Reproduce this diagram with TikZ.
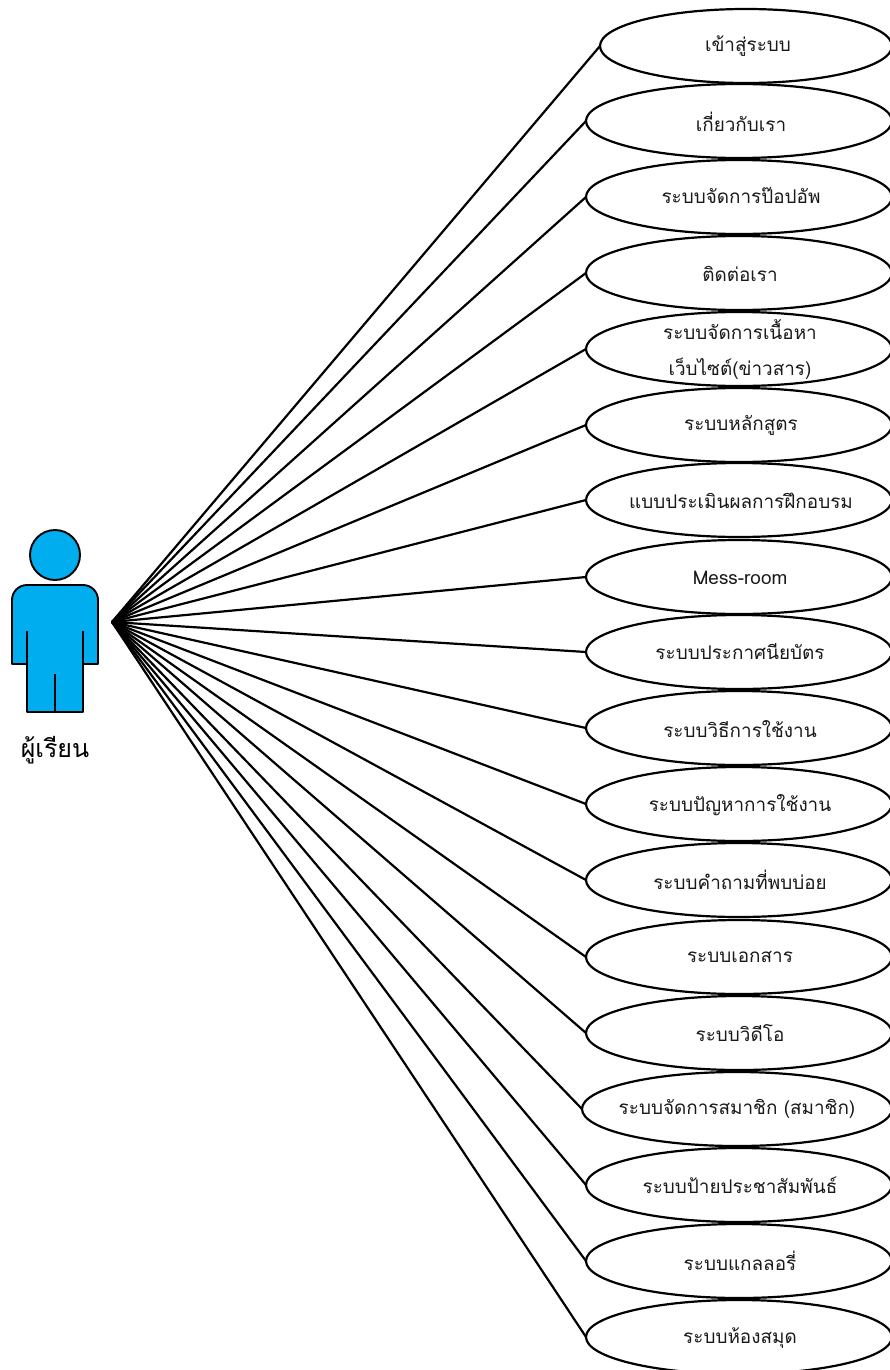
\documentclass[tikz,border=0pt]{standalone}
\usepackage{fontspec}
\usetikzlibrary{shapes.geometric}
\newfontfamily\thaifont[Script=Thai]{Loma}
\definecolor{actorblue}{RGB}{0,174,239}
\tikzset{
  x=1pt,y=-1pt,
  usecase/.style={draw=black,fill=white,ellipse,line width=2.2pt,inner sep=0pt,outer sep=0pt,minimum height=74pt},
  caselabel/.style={font=\thaifont\fontsize{18.9}{36}\selectfont,align=center,inner sep=0pt,text=black!90},
  link/.style={draw=black,line width=2.2pt},
  actorpart/.style={draw=black,fill=actorblue,line width=1.9pt,line join=round}
}
\begin{document}
\begin{tikzpicture}
\useasboundingbox (0,0) rectangle (890,1370);
\coordinate (hub) at (112,622);
\foreach \i/\cx/\rx/\cy/\tx/\ty/\lab in {
 1/746/146/46/748/46/{เข้าสู่ระบบ},
 2/739/153/121/741/122/{เกี่ยวกับเรา},
 3/739/153/197/741/196/{ระบบจัดการป๊อปอัพ},
 4/739/153/273/740/274/{ติดต่อเรา},
 5/739/153/349/740/349/{ระบบจัดการเนื้อหา\\เว็บไซต์(ข่าวสาร)},
 6/739/153/425/741/425/{ระบบหลักสูตร},
 7/739/153/500/741/501/{แบบประเมินผลการฝึกอบรม},
 8/739/153/577/740/578/{Mess-room},
 9/739/153/652/740/652/{ระบบประกาศนียบัตร},
 10/739/153/728/740/729/{ระบบวิธีการใช้งาน},
 11/739/153/804/740/805/{ระบบปัญหาการใช้งาน},
 12/739/153/880/740/880/{ระบบคำถามที่พบบ่อย},
 13/739/153/957/740/957/{ระบบเอกสาร},
 14/739/153/1033/740/1033/{ระบบวิดีโอ},
 15/737/155/1109/737/1109/{ระบบจัดการสมาชิก (สมาชิก)},
 16/739/153/1185/740/1185/{ระบบป้ายประชาสัมพันธ์},
 17/739/153/1261/740/1261/{ระบบแกลลอรี่},
 18/739/153/1337/740/1338/{ระบบห้องสมุด}}{
  \node[usecase,minimum width=2*\rx pt] (e\i) at (\cx,\cy) {};
  \node[caselabel] (t\i) at (\tx,\ty) {\lab};
  \draw[link] (hub) -- (e\i.west);
}
\node[actorpart,circle,minimum size=50pt,inner sep=0pt,outer sep=0pt] (head) at (55,555) {};
\draw[actorpart,rounded corners=15pt] (12,664) -- (12,585) -- (98,585) [sharp corners] -- (98,664) -- (83,664) -- (83,712) -- (27,712) -- (27,664) -- cycle;
\draw[actorpart] (27,631) -- (27,664) (83,631) -- (83,664) (55,674) -- (55,712);
\node[font=\thaifont\fontsize{25}{30}\selectfont,inner sep=0pt] (actorname) at (55,750) {ผู้เรียน};
\end{tikzpicture}
\end{document}
